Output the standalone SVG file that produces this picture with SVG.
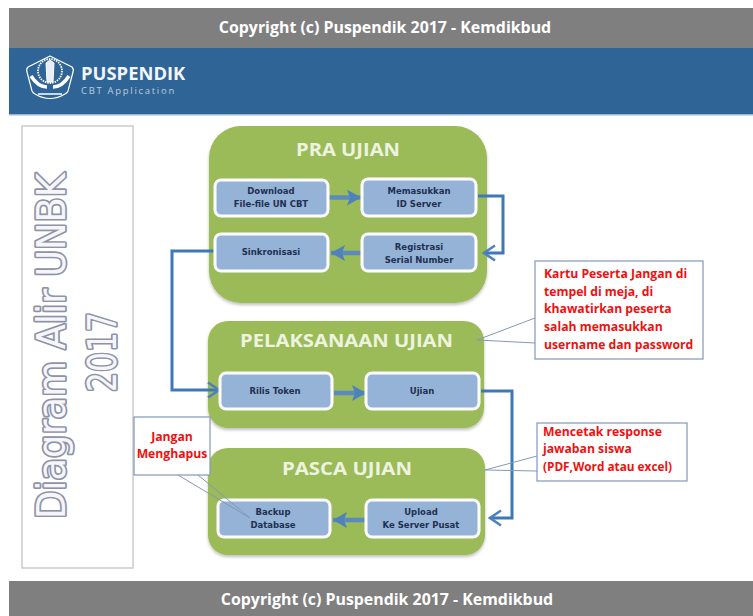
<svg xmlns="http://www.w3.org/2000/svg" width="753" height="616" viewBox="0 0 753 616">
<defs>
<marker id="tri" markerUnits="userSpaceOnUse" markerWidth="15" markerHeight="16" refX="14" refY="8" orient="auto"><path d="M0 0L14 8L0 16L3 8Z" fill="#4f81bd"/></marker>
<marker id="open" markerUnits="userSpaceOnUse" markerWidth="16" markerHeight="18" refX="14" refY="9" orient="auto"><path d="M3 1.500L14 9L3 16.500" fill="none" stroke="#4f81bd" stroke-width="2.600"/></marker>
<filter id="sh" x="-5%" y="-5%" width="110%" height="112%"><feDropShadow dx="0" dy="2" stdDeviation="1.500" flood-color="#000" flood-opacity=".25"/></filter>
</defs>
<style>
text{font-family:"Open Sans","Liberation Sans",sans-serif}
.band{fill:#7f7f7f}
.copy{fill:#fff;font-size:15.900px;font-weight:700;text-anchor:middle}
.group{fill:#9bbb59;filter:url(#sh)}
.head{fill:#eef3e0;font-weight:700;font-size:17.500px}
.step{fill:#95b3d7;stroke:#fff;stroke-width:3}
.lab{fill:#1f3050;font-family:"DejaVu Sans","Liberation Sans",sans-serif;font-size:8.500px;font-weight:700;text-anchor:middle}
.call{fill:#fff;stroke:#8497b8;stroke-width:1.200}
.tail{fill:none;stroke:#8497b8;stroke-width:1}
.red{fill:#f01010;font-size:12.200px;font-weight:700}
.thick{fill:none;stroke:#5a8abf;stroke-width:4.500;marker-end:url(#tri)}
.thin{fill:none;stroke:#3f78b8;stroke-width:3;marker-end:url(#open)}
.side{fill:#f6f6fa;stroke:#8e93a8;stroke-width:3.600;font-family:"DejaVu Sans",sans-serif;font-size:39px;font-weight:400;paint-order:stroke;stroke-linejoin:round}
</style>
<rect width="753" height="616" fill="#fff"/>
<g id="header">
<rect class="band" x="9" y="8" width="744" height="40"/>
<text class="copy" x="385" y="33">Copyright (c) Puspendik 2017 - Kemdikbud</text>
<rect x="9" y="48" width="744" height="66" fill="#2f6496"/>
<rect x="9" y="114" width="744" height="1.500" fill="#9db6cf"/>
<g fill="none" stroke="#fff">
<path d="M50 56L72 67Q74 69 73 72L68 91Q67 93 65 94Q50 103 35 94Q33 93 32 91L27 72Q26 69 28 67Z" stroke-width="1.200" stroke-linejoin="round"/>
<circle cx="50" cy="71" r="12" stroke-width="1.800" stroke-dasharray="1.500 1"/>
<path d="M46 63L50 60L54 63L53 82L47 82Z" fill="#e8eef5" stroke-width="1"/>
<path d="M31 76Q38 87 47 87M69 76Q62 87 53 87" stroke-width="3.500"/>
<path d="M38 94H62" stroke-width="1.500"/>
</g>
<text x="81" y="80" font-size="18.400" font-weight="700" fill="#f2f5f9">PUSPENDIK</text>
<text x="81" y="94" font-size="9.500" letter-spacing="1.700" fill="#b9cde0">CBT Application</text>
</g>
<g id="title-panel">
<rect x="22" y="126" width="111" height="442" fill="#fff" stroke="#cfcfcf" stroke-width="1.600"/>
<text class="side" transform="translate(65 519) rotate(-90)" textLength="346" lengthAdjust="spacingAndGlyphs">Diagram Alir UNBK</text>
<text class="side" transform="translate(116 392) rotate(-90)" textLength="80" lengthAdjust="spacingAndGlyphs">2017</text>
</g>
<g id="pra-ujian">
<rect class="group" x="209" y="126" width="278" height="177" rx="32"/>
<text class="head" x="296" y="156" textLength="104" lengthAdjust="spacingAndGlyphs">PRA UJIAN</text>
</g>
<g id="pelaksanaan-ujian">
<rect class="group" x="208" y="321" width="276" height="107" rx="20"/>
<text class="head" x="240" y="347" textLength="213" lengthAdjust="spacingAndGlyphs">PELAKSANAAN  UJIAN</text>
</g>
<g id="pasca-ujian">
<rect class="group" x="208" y="448" width="277" height="107" rx="20"/>
<text class="head" x="282" y="475" textLength="130" lengthAdjust="spacingAndGlyphs">PASCA UJIAN</text>
</g>
<g id="connectors">
<path class="thick" d="M329 197.500H361"/>
<path class="thin" d="M478 196H503V253H484"/>
<path class="thick" d="M363 253H331"/>
<path class="thin" d="M215 251H172V390H219"/>
<path class="thick" d="M334 393H366"/>
<path class="thin" d="M481 391H512V518H490"/>
<path class="thick" d="M366 520H333"/>
</g>
<g id="download"><rect class="step" x="215" y="180" width="113" height="36" rx="6"/><text class="lab" x="271" y="194">Download</text><text class="lab" x="271" y="207">File-file  UN CBT</text></g>
<g id="memasukkan"><rect class="step" x="362" y="179" width="114" height="37" rx="6"/><text class="lab" x="419" y="194">Memasukkan</text><text class="lab" x="419" y="207">ID Server</text></g>
<g id="sinkronisasi"><rect class="step" x="215" y="234" width="113" height="37" rx="6"/><text class="lab" x="271" y="255">Sinkronisasi</text></g>
<g id="registrasi"><rect class="step" x="362" y="234" width="114" height="37" rx="6"/><text class="lab" x="419" y="250">Registrasi</text><text class="lab" x="419" y="263">Serial Number</text></g>
<g id="rilis-token"><rect class="step" x="220" y="373" width="112" height="36" rx="6"/><text class="lab" x="275" y="394">Rilis  Token</text></g>
<g id="ujian"><rect class="step" x="366" y="373" width="113" height="36" rx="6"/><text class="lab" x="422" y="394">Ujian</text></g>
<g id="backup"><rect class="step" x="218" y="500" width="112" height="37" rx="6"/><text class="lab" x="273" y="515">Backup</text><text class="lab" x="273" y="528">Database</text></g>
<g id="upload"><rect class="step" x="366" y="500" width="113" height="37" rx="6"/><text class="lab" x="421" y="515">Upload</text><text class="lab" x="421" y="528">Ke Server Pusat</text></g>
<g id="note-kartu">
<rect class="call" x="535" y="261" width="168" height="98"/>
<path class="tail" d="M535 318L477 340L535 343"/>
<text class="red" x="544" y="278">Kartu Peserta Jangan di</text>
<text class="red" x="544" y="296">tempel di meja, di</text>
<text class="red" x="544" y="313">khawatirkan peserta</text>
<text class="red" x="544" y="331">salah memasukkan</text>
<text class="red" x="544" y="349">username dan password</text>
</g>
<g id="note-mencetak">
<rect class="call" x="537" y="423" width="150" height="58"/>
<path class="tail" d="M537 456L485 470L537 471"/>
<text class="red" x="543" y="436">Mencetak response</text>
<text class="red" x="543" y="453">jawaban siswa</text>
<text class="red" x="543" y="471" textLength="129" lengthAdjust="spacingAndGlyphs">(PDF,Word atau excel)</text>
</g>
<g id="note-jangan">
<rect class="call" x="134" y="417" width="76" height="58"/>
<path class="tail" d="M178 475L250 518L198 475"/>
<text class="red" x="172" y="441" text-anchor="middle">Jangan</text>
<text class="red" x="172" y="458" text-anchor="middle">Menghapus</text>
</g>
<g id="footer">
<rect class="band" x="9" y="581" width="744" height="35"/>
<text class="copy" x="387" y="605">Copyright (c) Puspendik 2017 - Kemdikbud</text>
</g>
</svg>
